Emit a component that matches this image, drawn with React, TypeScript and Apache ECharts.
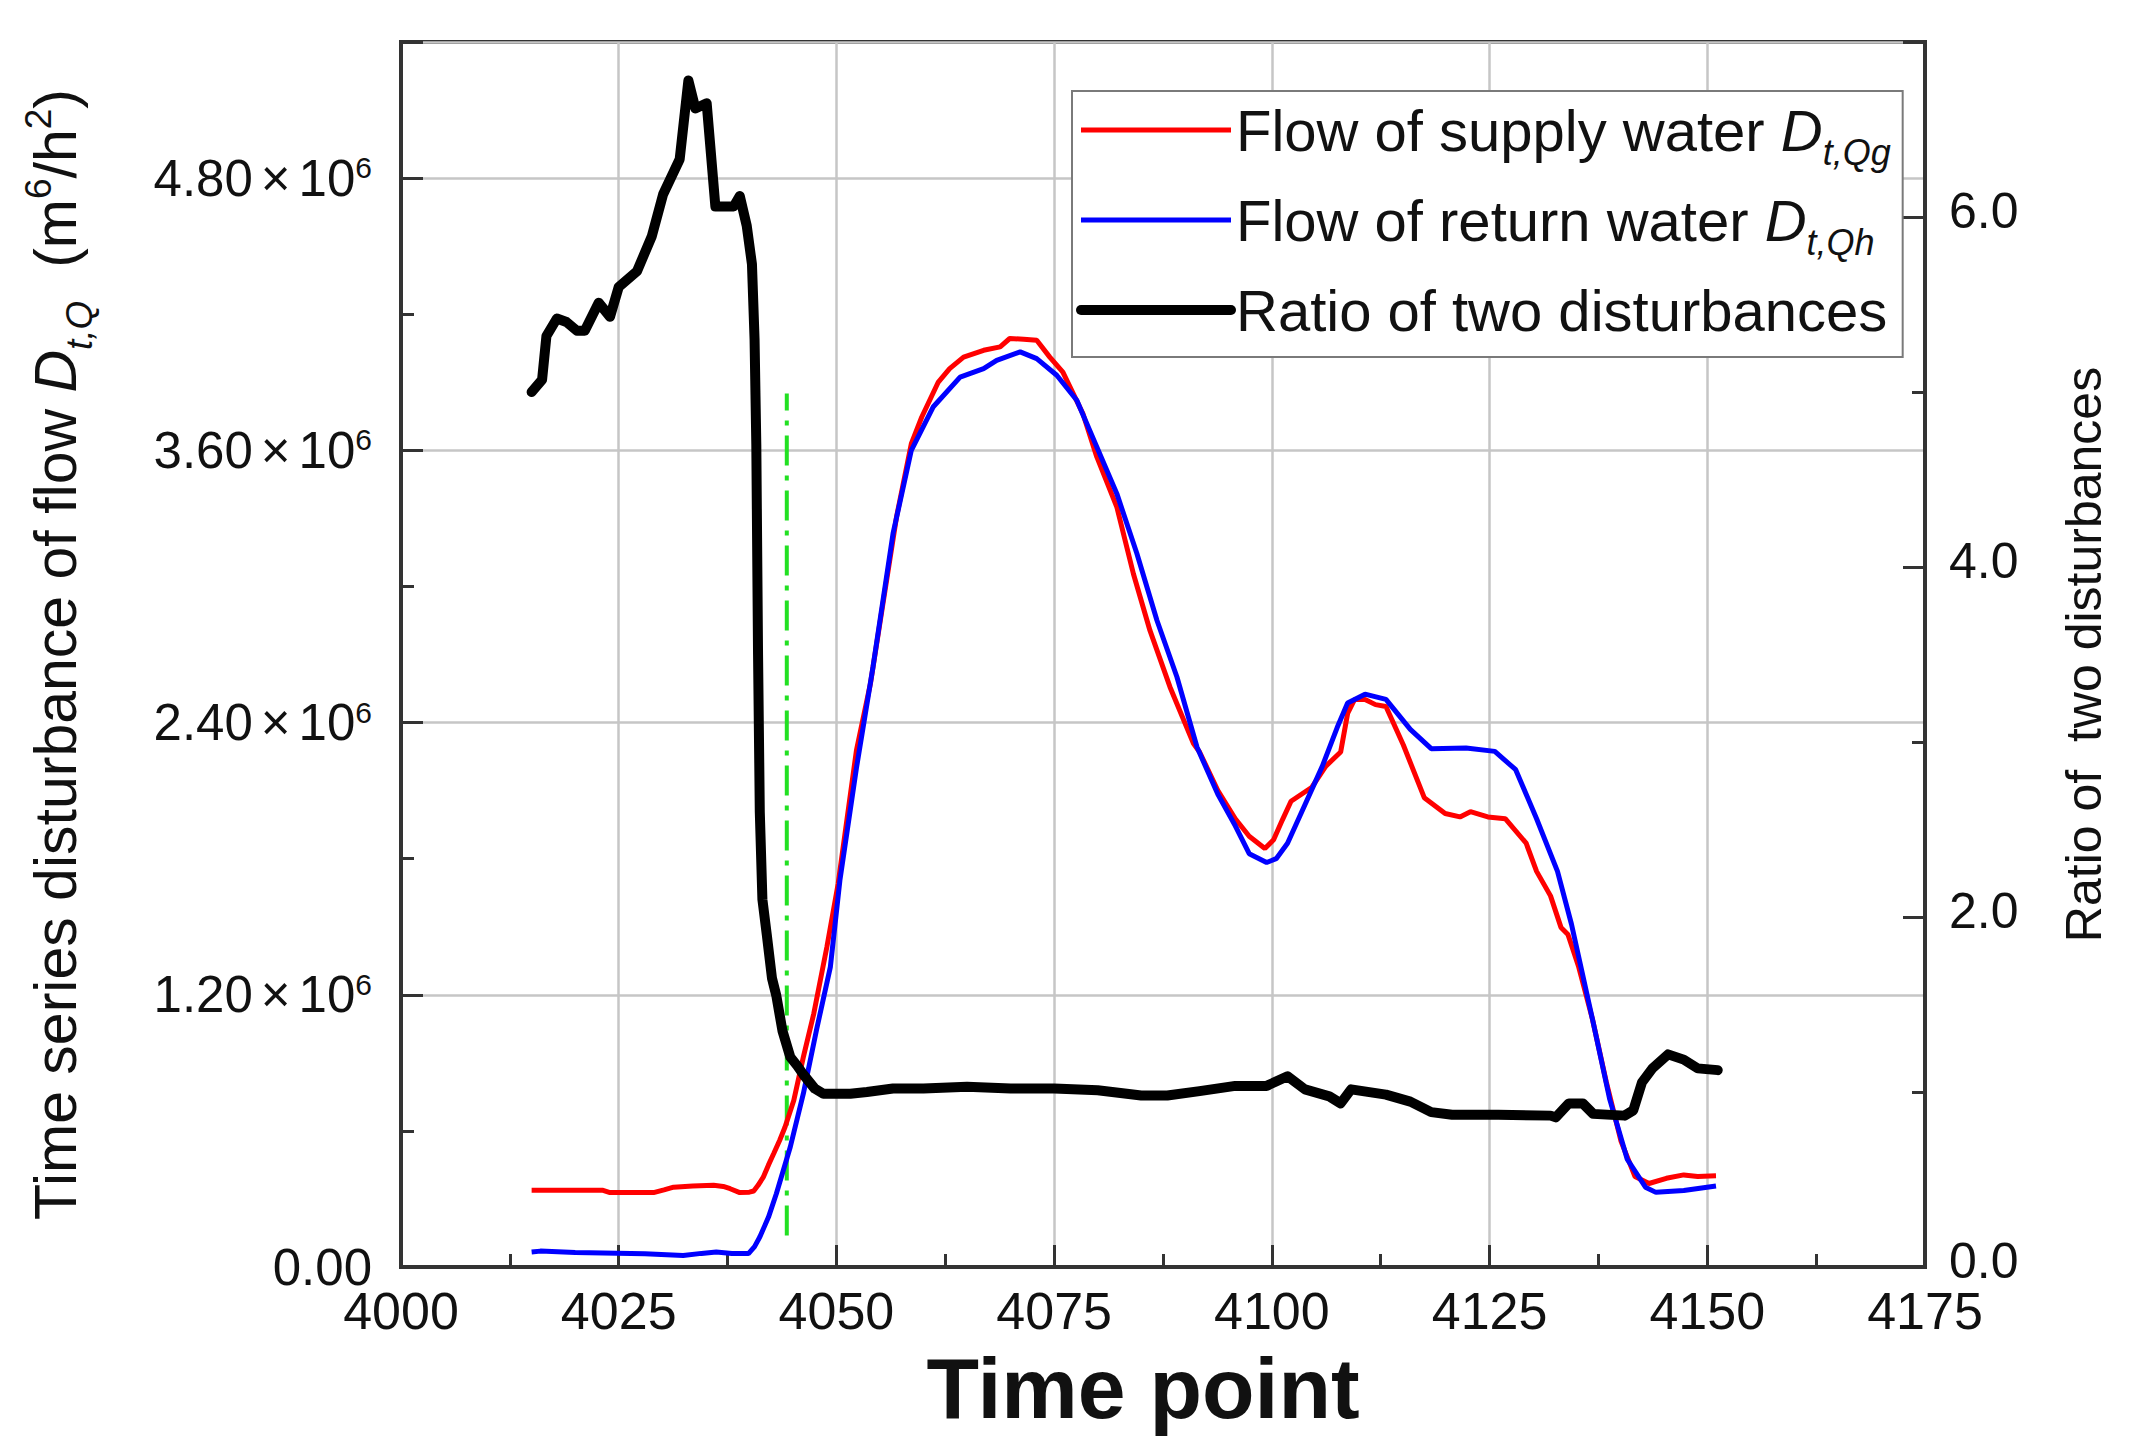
import React, { useEffect, useRef } from "react";
import * as echarts from "echarts";

// ---- data ----
const supplyT = [4015, 4018, 4021, 4023.2, 4024, 4026.5, 4029, 4030.2, 4031.3, 4033.5, 4035.9, 4037.0, 4037.8, 4038.9, 4040.0, 4040.5, 4041.0, 4041.6, 4042.2, 4042.8, 4043.5, 4044.1, 4045.1, 4046.2, 4047.4, 4048.9, 4050.2, 4052.3, 4053.9, 4055.4, 4056.9, 4058.6, 4059.8, 4061.7, 4063.0, 4064.6, 4066.9, 4068.8, 4069.9, 4071.5, 4073.0, 4074.5, 4076.0, 4078.3, 4079.9, 4082.2, 4084.1, 4086.0, 4088.3, 4091.0, 4091.7, 4093.8, 4095.8, 4097.4, 4099.2, 4100.2, 4101.2, 4102.2, 4103.4, 4104.6, 4106.2, 4107.9, 4108.7, 4109.5, 4110.7, 4111.9, 4113.1, 4115.1, 4117.5, 4119.9, 4121.6, 4122.8, 4124.8, 4126.8, 4129.2, 4130.4, 4132.0, 4133.2, 4134.0, 4135.2, 4136.8, 4138.4, 4140.1, 4141.7, 4143.3, 4145.3, 4147.3, 4148.9, 4151.0];
const supplyV = [0.338, 0.338, 0.338, 0.338, 0.328, 0.328, 0.328, 0.34, 0.352, 0.357, 0.36, 0.355, 0.345, 0.328, 0.33, 0.335, 0.36, 0.396, 0.45, 0.5, 0.56, 0.617, 0.734, 0.925, 1.117, 1.41, 1.69, 2.278, 2.571, 2.939, 3.306, 3.629, 3.747, 3.901, 3.96, 4.011, 4.041, 4.056, 4.093, 4.09, 4.085, 4.011, 3.945, 3.762, 3.571, 3.35, 3.056, 2.806, 2.557, 2.307, 2.27, 2.1, 1.976, 1.899, 1.845, 1.883, 1.97, 2.053, 2.084, 2.115, 2.208, 2.27, 2.44, 2.502, 2.502, 2.479, 2.471, 2.301, 2.069, 1.999, 1.984, 2.007, 1.984, 1.976, 1.868, 1.744, 1.636, 1.497, 1.466, 1.327, 1.095, 0.816, 0.554, 0.399, 0.368, 0.391, 0.406, 0.399, 0.402];

const returnT = [4015, 4016, 4020, 4024.8, 4028, 4032.4, 4034.5, 4036.2, 4038, 4039.9, 4040.6, 4041.2, 4042.2, 4043.1, 4044.7, 4046.2, 4047.7, 4049.3, 4050.4, 4052.3, 4054.2, 4056.5, 4058.6, 4061.1, 4064.2, 4066.9, 4068.4, 4071.1, 4073.0, 4075.3, 4077.6, 4079.9, 4082.2, 4084.5, 4086.8, 4089.1, 4091.4, 4093.8, 4095.8, 4097.4, 4099.4, 4100.5, 4101.8, 4103.8, 4105.8, 4107.5, 4108.7, 4110.7, 4113.1, 4115.9, 4118.3, 4122.3, 4125.6, 4128.0, 4130.4, 4132.8, 4134.4, 4136.8, 4138.8, 4140.8, 4142.9, 4144.1, 4147.3, 4151.0];
const returnV = [0.066, 0.07, 0.064, 0.061, 0.058, 0.051, 0.06, 0.066, 0.06, 0.059, 0.09, 0.132, 0.22, 0.323, 0.529, 0.764, 1.043, 1.322, 1.705, 2.2, 2.645, 3.233, 3.6, 3.791, 3.923, 3.96, 3.997, 4.034, 4.004, 3.931, 3.821, 3.615, 3.409, 3.145, 2.851, 2.601, 2.292, 2.084, 1.945, 1.822, 1.783, 1.8, 1.868, 2.038, 2.208, 2.378, 2.486, 2.525, 2.502, 2.37, 2.285, 2.288, 2.273, 2.192, 1.976, 1.744, 1.512, 1.095, 0.739, 0.476, 0.352, 0.329, 0.337, 0.357];

const ratioT = [4015.0, 4016.2, 4016.7, 4017.9, 4019.0, 4020.2, 4021.1, 4022.7, 4024.0, 4025.0, 4027.1, 4028.8, 4030.1, 4032.0, 4033.0, 4033.8, 4035.1, 4036.1, 4038.2, 4038.9, 4039.7, 4040.3, 4040.6, 4040.8, 4041.0, 4041.2, 4041.5, 4042.0, 4042.6, 4043.1, 4043.8, 4044.7, 4045.5, 4046.2, 4047.5, 4048.5, 4051.6, 4053.5, 4056.5, 4060, 4065, 4070, 4075, 4080, 4085, 4088, 4091.7, 4095.8, 4099.4, 4101.8, 4103.8, 4106.6, 4107.9, 4109.1, 4113.1, 4115.9, 4118.3, 4120.7, 4126, 4132.0, 4132.6, 4134.1, 4135.7, 4136.9, 4140.5, 4141.5, 4142.5, 4143.7, 4145.5, 4147.3, 4148.9, 4151.2];
const ratioV = [5.0, 5.07, 5.32, 5.42, 5.4, 5.35, 5.35, 5.51, 5.43, 5.6, 5.69, 5.89, 6.13, 6.33, 6.78, 6.62, 6.65, 6.06, 6.06, 6.12, 5.95, 5.73, 5.3, 4.7, 3.5, 2.6, 2.1, 1.9, 1.65, 1.55, 1.35, 1.2, 1.15, 1.1, 1.02, 0.99, 0.99, 1.0, 1.02, 1.02, 1.03, 1.02, 1.02, 1.01, 0.98, 0.98, 1.005, 1.035, 1.035, 1.09, 1.015, 0.975, 0.935, 1.015, 0.985, 0.945, 0.885, 0.87, 0.87, 0.865, 0.855, 0.935, 0.935, 0.875, 0.865, 0.895, 1.055, 1.135, 1.215, 1.185, 1.135, 1.125];

const markerT = [4044.3, 4044.3];
const markerV = [0.139, 3.85];

const SCALE = 1e6;
const xTicks = { min: 4000, max: 4175, step: 25 };
const leftTicks = { min: 0, max: 5.4e6, step: 1.2e6 };
const rightTicks = { min: 0, max: 7, step: 2 };

const names = {
  supply: "Flow of supply water",
  ret: "Flow of return water",
  ratio: "Ratio of two disturbances",
};

const FONT = "'Liberation Sans', Arial, sans-serif";

function pairs(t: number[], v: number[], k: number) {
  return t.map((x, i) => [x, v[i] * k]);
}

export default function App() {
  const ref = useRef<HTMLDivElement>(null);
  useEffect(() => {
    document.body.style.margin = "0";
    document.body.style.overflow = "hidden";
    const chart = echarts.init(ref.current!, null, { renderer: "svg" });
    const axisLineStyle = { color: "#333", width: 4 };
    const tickStyle = { color: "#333", width: 3 };
    const hiddenSymbol = { opacity: 0, color: "transparent", borderWidth: 0 };
    const option: any = {
      animation: false,
      backgroundColor: "#fff",
      grid: {
        left: 401,
        right: 217,
        top: 42,
        bottom: 189,
        show: true,
        borderColor: "#333",
        borderWidth: 4,
        containLabel: false,
      },
      legend: {
        orient: "vertical",
        left: 1072,
        top: 91,
        padding: [10, 12, 18, 4],
        itemGap: 21,
        itemWidth: 150,
        itemHeight: 20,
        borderColor: "#7a7a7a",
        borderWidth: 2,
        backgroundColor: "#fff",
        itemStyle: hiddenSymbol,
        data: [
          { name: names.supply, itemStyle: hiddenSymbol, lineStyle: { width: 5, color: "#ff0000" } },
          { name: names.ret, itemStyle: hiddenSymbol, lineStyle: { width: 5, color: "#0000ff" } },
          { name: names.ratio, itemStyle: hiddenSymbol, lineStyle: { width: 10, color: "#000000" } },
        ],
        formatter: (n: string) => {
          if (n === names.supply) return "{n|Flow of supply water }{d|D}{s|t,Qg}";
          if (n === names.ret) return "{n|Flow of return water }{d|D}{s|t,Qh}";
          return "{n|Ratio of two disturbances}";
        },
        textStyle: {
          fontFamily: FONT,
          color: "#111",
          rich: {
            n: { fontSize: 58, lineHeight: 80, fontFamily: FONT, color: "#111" },
            d: { fontSize: 58, lineHeight: 80, fontStyle: "italic", fontFamily: FONT, color: "#111" },
            s: { fontSize: 36, lineHeight: 36, verticalAlign: "bottom", fontStyle: "italic", fontFamily: FONT, color: "#111" },
          },
        },
      },
      xAxis: {
        type: "value",
        min: xTicks.min,
        max: xTicks.max,
        interval: xTicks.step,
        name: "Time point",
        nameLocation: "middle",
        nameGap: 78,
        nameTextStyle: { fontFamily: FONT, fontSize: 86, fontWeight: "bold", color: "#111", padding: [0, 40, 0, 0] },
        axisLine: { show: true, lineStyle: axisLineStyle },
        axisTick: { show: true, inside: true, length: 22, lineStyle: tickStyle },
        minorTick: { show: true, splitNumber: 2, length: 13, lineStyle: tickStyle },
        axisLabel: {
          fontFamily: FONT,
          fontSize: 52,
          lineHeight: 40,
          color: "#111",
          margin: 24,
          formatter: (v: number) => String(v),
        },
        splitLine: { show: true, lineStyle: { color: "#c6c6c6", width: 2.5 } },
      },
      yAxis: [
        {
          type: "value",
          min: leftTicks.min,
          max: leftTicks.max,
          interval: leftTicks.step,
          position: "left",
          name: "Time series disturbance of flow {d|D}{s|t,Q}  (m{p|6}/h{p|2})",
          nameLocation: "middle",
          nameRotate: 90,
          nameGap: 303,
          nameTextStyle: {
            fontFamily: FONT,
            fontSize: 59,
            color: "#111",
            rich: {
              d: { fontSize: 59, lineHeight: 84, fontStyle: "italic", fontFamily: FONT, color: "#111" },
              s: { fontSize: 37, lineHeight: 37, verticalAlign: "bottom", fontStyle: "italic", fontFamily: FONT, color: "#111" },
              p: { fontSize: 37, lineHeight: 37, verticalAlign: "top", fontFamily: FONT, color: "#111", padding: [6, 0, 0, 0] },
            },
          },
          axisLine: { show: true, lineStyle: axisLineStyle },
          axisTick: { show: true, inside: true, length: 22, lineStyle: tickStyle },
          minorTick: { show: true, splitNumber: 2, length: 13, lineStyle: tickStyle },
          axisLabel: {
            margin: 29,
            showMaxLabel: false,
            formatter: (v: number) => {
              const s = (v / SCALE).toFixed(2);
              if (v === 0) return "{n|" + s + "}";
              return "{n|" + s + "}{x|×}{n|10}{p|6}";
            },
            rich: {
              n: { fontFamily: FONT, fontSize: 51, lineHeight: 51, color: "#111" },
              x: { fontFamily: FONT, fontSize: 51, lineHeight: 51, color: "#111", padding: [0, 8, 0, 8] },
              p: { fontFamily: FONT, fontSize: 30, lineHeight: 30, color: "#111", verticalAlign: "top" },
            },
          },
          splitLine: { show: true, lineStyle: { color: "#c6c6c6", width: 2.5 } },
        },
        {
          type: "value",
          min: rightTicks.min,
          max: rightTicks.max,
          interval: rightTicks.step,
          position: "right",
          name: "Ratio of  two disturbances",
          nameLocation: "middle",
          nameRotate: 90,
          nameGap: 134,
          nameTextStyle: { fontFamily: FONT, fontSize: 50, color: "#111" },
          axisLine: { show: true, lineStyle: axisLineStyle },
          axisTick: { show: true, inside: true, length: 22, lineStyle: tickStyle },
          minorTick: { show: true, splitNumber: 2, length: 13, lineStyle: tickStyle },
          axisLabel: {
            margin: 24,
            showMaxLabel: false,
            fontFamily: FONT,
            fontSize: 50,
            lineHeight: 12,
            verticalAlign: "bottom",
            color: "#111",
            formatter: (v: number) => v.toFixed(1),
          },
          splitLine: { show: false },
        },
      ],
      series: [
        {
          name: "marker",
          type: "line",
          yAxisIndex: 0,
          data: pairs(markerT, markerV, SCALE),
          symbol: "none",
          lineStyle: { color: "#22e022", width: 4, type: [30, 10, 5, 10] },
          z: 1,
        },
        {
          name: names.supply,
          type: "line",
          yAxisIndex: 0,
          data: pairs(supplyT, supplyV, SCALE),
          symbol: "none",
          itemStyle: { color: "#ff0000" },
          lineStyle: { color: "#ff0000", width: 5 },
          z: 2,
        },
        {
          name: names.ret,
          type: "line",
          yAxisIndex: 0,
          data: pairs(returnT, returnV, SCALE),
          symbol: "none",
          itemStyle: { color: "#0000ff" },
          lineStyle: { color: "#0000ff", width: 5 },
          z: 3,
        },
        {
          name: names.ratio,
          type: "line",
          yAxisIndex: 1,
          data: pairs(ratioT, ratioV, 1),
          symbol: "none",
          itemStyle: { color: "#000000" },
          lineStyle: { color: "#000000", width: 10, join: "round", cap: "round" },
          z: 4,
        },
      ],
    };
    chart.setOption(option);
    return () => chart.dispose();
  }, []);
  return <div ref={ref} style={{ width: "2142px", height: "1456px" }} />;
}
